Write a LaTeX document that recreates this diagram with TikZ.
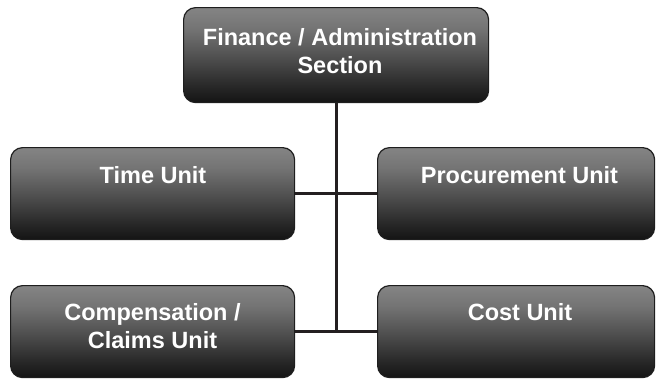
\documentclass[tikz,border=0pt]{standalone}
\usepackage{fontspec}
\setmainfont{Liberation Sans}
\definecolor{edgecol}{HTML}{1E1E1E}
\definecolor{linecol}{HTML}{231F20}
\definecolor{sA}{HTML}{141414}
\definecolor{sB}{HTML}{262626}
\definecolor{sC}{HTML}{525252}
\definecolor{sD}{HTML}{747474}
\definecolor{sE}{HTML}{848484}
\pgfdeclareverticalshading{boxshade}{100bp}{color(0bp)=(sA); color(25bp)=(sA); color(33bp)=(sB); color(50bp)=(sC); color(64bp)=(sD); color(75bp)=(sE); color(100bp)=(sE)}
\tikzset{
  unitbox/.style={rectangle, rounded corners=12bp, draw=edgecol, line width=1.2bp,
    shading=boxshade, inner sep=0pt, anchor=north west},
  unittext/.style={anchor=north, inner sep=0pt, text=white, align=center,
    font=\fontsize{23.5bp}{28.5bp}\selectfont\bfseries},
  conn/.style={draw=linecol, line width=3bp}
}
\begin{document}
\begin{tikzpicture}[x=1bp,y=-1bp]
\useasboundingbox (0,0) rectangle (656,378);
% boxes
\node[unitbox, minimum width=305bp, minimum height=95bp] (fin) at (183,7) {};
\node[unitbox, minimum width=284bp, minimum height=92bp] (time) at (10,147) {};
\node[unitbox, minimum width=277bp, minimum height=92bp] (proc) at (377,147) {};
\node[unitbox, minimum width=284bp, minimum height=92bp] (comp) at (10,285) {};
\node[unitbox, minimum width=277bp, minimum height=92bp] (cost) at (377,285) {};
% connectors
\coordinate (j) at (fin.south |- comp.east);
\draw[conn] (fin.south) -- (j);
\draw[conn] (time.east) -- (proc.west);
\draw[conn] (comp.east) -- (cost.west);
% texts
\node[unittext] (fint) at (340,28) {Finance / Administration\\Section};
\node[unittext] (timet) at (153,166) {Time Unit};
\node[unittext] (proct) at (519.5,166) {Procurement Unit};
\node[unittext] (compt) at (152.5,303) {Compensation /\\Claims Unit};
\node[unittext] (costt) at (520,303) {Cost Unit};
\end{tikzpicture}
\end{document}
